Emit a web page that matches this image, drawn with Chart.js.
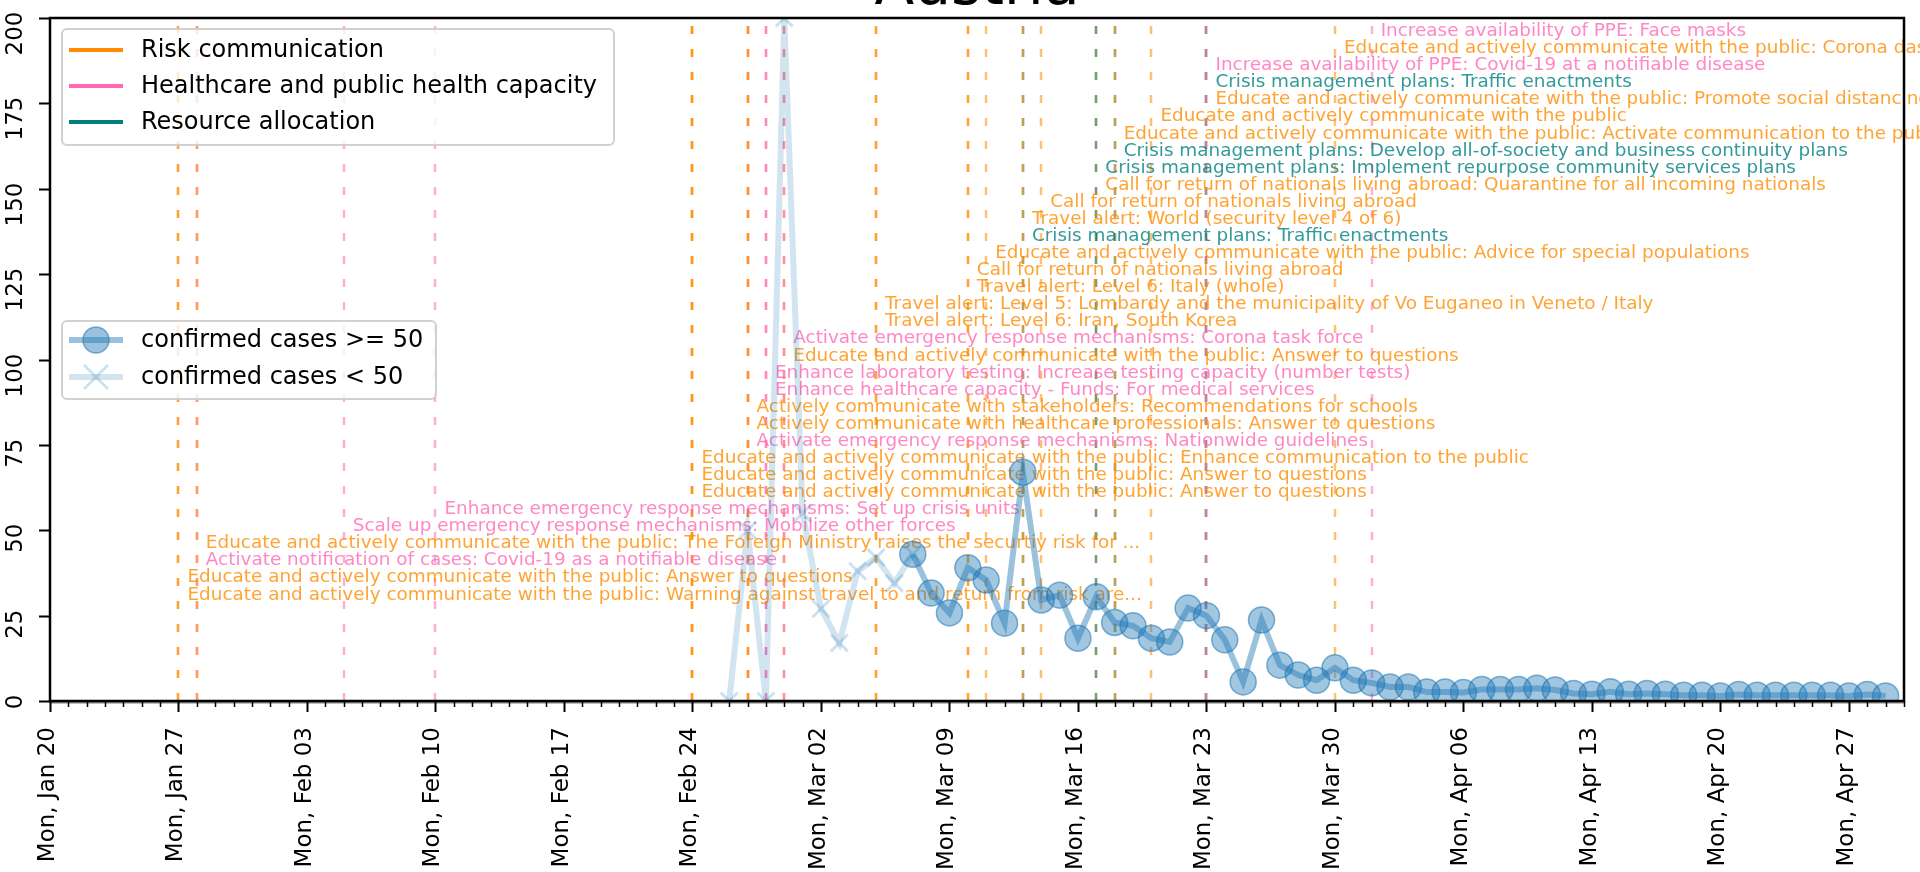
<!DOCTYPE html>
<html>
<head>
<meta charset="utf-8">
<script src="https://cdn.jsdelivr.net/npm/chart.js@4.4.1/dist/chart.umd.min.js"></script>
<style>
  html, body { margin: 0; padding: 0; background: #fff; overflow: hidden; }
  canvas { display: block; }
</style>
</head>
<body>
<canvas id="chart" width="1920" height="872"></canvas>
<script>
// --- data (day 0 = Mon, Jan 20 2020) ---
const startDate = '2020-01-20';
const endDate = '2020-04-30';

// growth while confirmed cases < 50
const lowDates = ['2020-02-26', '2020-02-27', '2020-02-28', '2020-02-29', '2020-03-01', '2020-03-02',
  '2020-03-03', '2020-03-04', '2020-03-05', '2020-03-06', '2020-03-07'];
const lowValues = [0, 50, 0, 200, 55, 27, 17, 38, 42, 34.5, 43];

// growth once confirmed cases >= 50 (one value per day from highStart)
const highStart = '2020-03-07';
const highValues = [43, 31.6, 25.8, 39, 35.4, 22.8, 67, 29.6, 31, 18.4,
  30.5, 23, 22, 18.4, 17.3, 27.2, 25, 17.9, 5.6, 23.7,
  10.5, 7.6, 6.1, 9.7, 6.1, 5.3, 4.1, 4.1, 2.6, 2.6,
  2.5, 3.4, 3.4, 3.4, 3.7, 3.2, 2.2, 2.0, 2.7, 2.0,
  2.2, 2.0, 1.7, 1.7, 1.5, 1.9, 1.7, 1.7, 1.7, 1.7,
  1.7, 1.5, 1.9, 1.5];

const xTickLabels = ['Mon, Jan 20', 'Mon, Jan 27', 'Mon, Feb 03', 'Mon, Feb 10', 'Mon, Feb 17',
  'Mon, Feb 24', 'Mon, Mar 02', 'Mon, Mar 09', 'Mon, Mar 16', 'Mon, Mar 23', 'Mon, Mar 30',
  'Mon, Apr 06', 'Mon, Apr 13', 'Mon, Apr 20', 'Mon, Apr 27'];
const yTicks = [0, 25, 50, 75, 100, 125, 150, 175, 200];

const categories = ['Risk communication', 'Healthcare and public health capacity', 'Resource allocation'];
const categoryColors = ['255,140,0', '255,105,180', '0,128,128'];

// measures, bottom row first
const eventDates = ['2020-01-27', '2020-01-27', '2020-01-28', '2020-01-28', '2020-02-05', '2020-02-10',
  '2020-02-24', '2020-02-24', '2020-02-24', '2020-02-27', '2020-02-27', '2020-02-27',
  '2020-02-28', '2020-02-28', '2020-02-29', '2020-02-29', '2020-03-05', '2020-03-05',
  '2020-03-10', '2020-03-10', '2020-03-11', '2020-03-13', '2020-03-13', '2020-03-14',
  '2020-03-17', '2020-03-17', '2020-03-18', '2020-03-18', '2020-03-20', '2020-03-23',
  '2020-03-23', '2020-03-23', '2020-03-30', '2020-04-01'];
const eventTypes = [0, 0, 1, 0, 1, 1,
  0, 0, 0, 1, 0, 0,
  1, 1, 0, 1, 0, 0,
  0, 0, 0, 2, 0, 0,
  0, 2, 2, 0, 0, 0,
  2, 1, 0, 1];
const eventTexts = [
  'Educate and actively communicate with the public: Warning against travel to and return from risk are...',
  'Educate and actively communicate with the public: Answer to questions',
  'Activate notification of cases: Covid-19 as a notifiable disease',
  'Educate and actively communicate with the public: The Foreign Ministry raises the securtiy risk for ...',
  'Scale up emergency response mechanisms: Mobilize other forces',
  'Enhance emergency response mechanisms: Set up crisis units',
  'Educate and actively communicate with the public: Answer to questions',
  'Educate and actively communicate with the public: Answer to questions',
  'Educate and actively communicate with the public: Enhance communication to the public',
  'Activate emergency response mechanisms: Nationwide guidelines',
  'Actively communicate with healthcare professionals: Answer to questions',
  'Actively communicate with stakeholders: Recommendations for schools',
  'Enhance healthcare capacity - Funds: For medical services',
  'Enhance laboratory testing: Increase testing capacity (number tests)',
  'Educate and actively communicate with the public: Answer to questions',
  'Activate emergency response mechanisms: Corona task force',
  'Travel alert: Level 6: Iran, South Korea',
  'Travel alert: Level 5: Lombardy and the municipality of Vo Euganeo in Veneto / Italy',
  'Travel alert: Level 6: Italy (whole)',
  'Call for return of nationals living abroad',
  'Educate and actively communicate with the public: Advice for special populations',
  'Crisis management plans: Traffic enactments',
  'Travel alert: World (security level 4 of 6)',
  'Call for return of nationals living abroad',
  'Call for return of nationals living abroad: Quarantine for all incoming nationals',
  'Crisis management plans: Implement repurpose community services plans',
  'Crisis management plans: Develop all-of-society and business continuity plans',
  'Educate and actively communicate with the public: Activate communication to the public',
  'Educate and actively communicate with the public',
  'Educate and actively communicate with the public: Promote social distancing',
  'Crisis management plans: Traffic enactments',
  'Increase availability of PPE: Covid-19 at a notifiable disease',
  'Educate and actively communicate with the public: Corona dashboard',
  'Increase availability of PPE: Face masks'
];

const title = 'Austria';
const seriesLabels = ['confirmed cases >= 50', 'confirmed cases < 50'];

// --- helpers ---
const DAY = 86400000;
const t0 = Date.parse(startDate + 'T00:00:00Z');
function dayOf(s) { return Math.round((Date.parse(s + 'T00:00:00Z') - t0) / DAY); }

const FONT = "'DejaVu Sans', 'Liberation Sans', sans-serif";
const BLUE = '31,119,180';

const lowData = lowDates.map((d, i) => ({ x: dayOf(d), y: lowValues[i] }));
const highData = highValues.map((v, i) => ({ x: dayOf(highStart) + i, y: v }));

const decor = {
  id: 'decor',
  beforeDatasetsDraw(chart) {
    const { ctx, chartArea: a, scales: { x, y } } = chart;
    ctx.save();
    ctx.beginPath();
    ctx.rect(a.left, a.top, a.right - a.left, a.bottom - a.top);
    ctx.clip();
    // vertical dashed lines, one per measure
    ctx.lineWidth = 2.5;
    ctx.setLineDash([8, 15]);
    eventDates.forEach((d, i) => {
      const px = Math.round(x.getPixelForValue(dayOf(d)));
      ctx.strokeStyle = 'rgba(' + categoryColors[eventTypes[i]] + ',0.55)';
      ctx.beginPath();
      ctx.moveTo(px, a.bottom);
      ctx.lineTo(px, a.top);
      ctx.stroke();
    });
    ctx.restore();

    // labels, stacked 5 units apart starting at 30
    ctx.save();
    ctx.font = '18.4px ' + FONT;
    ctx.textAlign = 'left';
    ctx.textBaseline = 'alphabetic';
    eventTexts.forEach((t, i) => {
      const px = x.getPixelForValue(dayOf(eventDates[i])) + 9;
      const py = y.getPixelForValue(30 + 5 * i) + 1;
      ctx.fillStyle = 'rgba(' + categoryColors[eventTypes[i]] + ',0.8)';
      ctx.fillText(t, px, py);
    });
    ctx.restore();
  },
  afterDatasetsDraw(chart) {
    const { ctx } = chart;
    ctx.save();
    function box(x0, y0, w, h) {
      ctx.beginPath();
      ctx.roundRect(x0, y0, w, h, 5);
      ctx.fillStyle = 'rgba(255,255,255,0.8)';
      ctx.fill();
      ctx.strokeStyle = 'rgba(204,204,204,0.9)';
      ctx.lineWidth = 2;
      ctx.stroke();
    }
    ctx.font = '24px ' + FONT;
    ctx.textBaseline = 'middle';
    ctx.textAlign = 'left';

    // category legend
    box(62, 29, 552, 116);
    categories.forEach((c, i) => {
      const cy = 50 + i * 36;
      ctx.strokeStyle = 'rgb(' + categoryColors[i] + ')';
      ctx.lineWidth = 4;
      ctx.beginPath();
      ctx.moveTo(69, cy);
      ctx.lineTo(123, cy);
      ctx.stroke();
      ctx.fillStyle = '#000';
      ctx.fillText(c, 141, cy + 1);
    });

    // series legend
    box(62, 321, 374, 78);
    let cy = 340;
    ctx.strokeStyle = 'rgba(' + BLUE + ',0.45)';
    ctx.lineWidth = 6;
    ctx.beginPath(); ctx.moveTo(69, cy); ctx.lineTo(123, cy); ctx.stroke();
    ctx.beginPath(); ctx.arc(96, cy, 13, 0, Math.PI * 2);
    ctx.fillStyle = 'rgba(' + BLUE + ',0.45)'; ctx.fill();
    ctx.lineWidth = 1.5; ctx.strokeStyle = 'rgba(' + BLUE + ',0.55)'; ctx.stroke();
    ctx.fillStyle = '#000';
    ctx.fillText(seriesLabels[0], 141, cy + 1);

    cy = 377;
    ctx.strokeStyle = 'rgba(' + BLUE + ',0.2)';
    ctx.lineWidth = 6;
    ctx.beginPath(); ctx.moveTo(69, cy); ctx.lineTo(123, cy); ctx.stroke();
    ctx.strokeStyle = 'rgba(' + BLUE + ',0.22)';
    ctx.lineWidth = 3;
    ctx.beginPath();
    ctx.moveTo(96 - 12, cy - 12); ctx.lineTo(96 + 12, cy + 12);
    ctx.moveTo(96 - 12, cy + 12); ctx.lineTo(96 + 12, cy - 12);
    ctx.stroke();
    ctx.fillStyle = '#000';
    ctx.fillText(seriesLabels[1], 141, cy + 1);
    ctx.restore();
  },
  afterDraw(chart) {
    const { ctx, chartArea: a, scales: { x, y } } = chart;
    ctx.save();
    ctx.strokeStyle = '#000';
    ctx.fillStyle = '#000';

    // x ticks: minor every day, major every Monday
    for (let d = 0; d <= x.max; d++) {
      const px = Math.round(x.getPixelForValue(d)) + 0.5;
      const len = d % 7 === 0 ? 11 : 6;
      ctx.lineWidth = d % 7 === 0 ? 2 : 1.5;
      ctx.beginPath(); ctx.moveTo(px, a.bottom); ctx.lineTo(px, a.bottom + len); ctx.stroke();
    }
    ctx.font = '23px ' + FONT;
    ctx.textAlign = 'right';
    ctx.textBaseline = 'middle';
    xTickLabels.forEach((lab, i) => {
      const px = x.getPixelForValue(i * 7);
      ctx.save();
      ctx.translate(px - 2, a.bottom + 26);
      ctx.rotate(-Math.PI / 2);
      ctx.fillText(lab, 0, 0);
      ctx.restore();
    });

    // y ticks
    ctx.lineWidth = 2;
    yTicks.forEach(v => {
      const py = Math.round(y.getPixelForValue(v)) + 0.5;
      ctx.beginPath(); ctx.moveTo(a.left - 11, py); ctx.lineTo(a.left, py); ctx.stroke();
      ctx.save();
      ctx.translate(16, py - 7);
      ctx.rotate(-Math.PI / 2);
      ctx.font = '23px ' + FONT;
      ctx.textAlign = 'right';
      ctx.textBaseline = 'middle';
      ctx.fillText(String(v), 0, 0);
      ctx.restore();
    });

    // frame
    ctx.lineWidth = 2.5;
    ctx.strokeRect(a.left, a.top, a.right - a.left, a.bottom - a.top);
    ctx.lineWidth = 2;
    ctx.strokeStyle = 'rgba(0,0,0,0.5)';
    ctx.beginPath(); ctx.moveTo(a.left, a.bottom + 1.5); ctx.lineTo(a.right, a.bottom + 1.5); ctx.stroke();

    // title (mostly above the canvas)
    ctx.font = '58px ' + FONT;
    ctx.textAlign = 'center';
    ctx.textBaseline = 'alphabetic';
    ctx.fillStyle = '#000';
    ctx.fillText(title, (a.left + a.right) / 2, 4);
    ctx.restore();
  }
};

new Chart(document.getElementById('chart'), {
  type: 'line',
  data: {
    datasets: [
      {
        label: seriesLabels[1],
        data: lowData,
        borderColor: 'rgba(' + BLUE + ',0.2)',
        borderWidth: 6,
        pointStyle: 'crossRot',
        pointRadius: 12,
        pointBorderWidth: 3,
        pointBorderColor: 'rgba(' + BLUE + ',0.22)',
        pointBackgroundColor: 'rgba(0,0,0,0)',
        tension: 0
      },
      {
        label: seriesLabels[0],
        data: highData,
        borderColor: 'rgba(' + BLUE + ',0.45)',
        borderWidth: 6,
        pointStyle: 'circle',
        pointRadius: 13,
        pointBorderWidth: 1.5,
        pointBackgroundColor: 'rgba(' + BLUE + ',0.42)',
        pointBorderColor: 'rgba(' + BLUE + ',0.55)',
        tension: 0
      }
    ]
  },
  options: {
    responsive: false,
    devicePixelRatio: 1,
    animation: false,
    layout: { padding: { left: 50, top: 18, right: 16, bottom: 171 } },
    scales: {
      x: { type: 'linear', min: 0, max: dayOf(endDate), display: false },
      y: { type: 'linear', min: 0, max: 200, display: false }
    },
    plugins: {
      legend: { display: false },
      tooltip: { enabled: false },
      title: { display: false }
    }
  },
  plugins: [decor]
});
</script>
</body>
</html>
